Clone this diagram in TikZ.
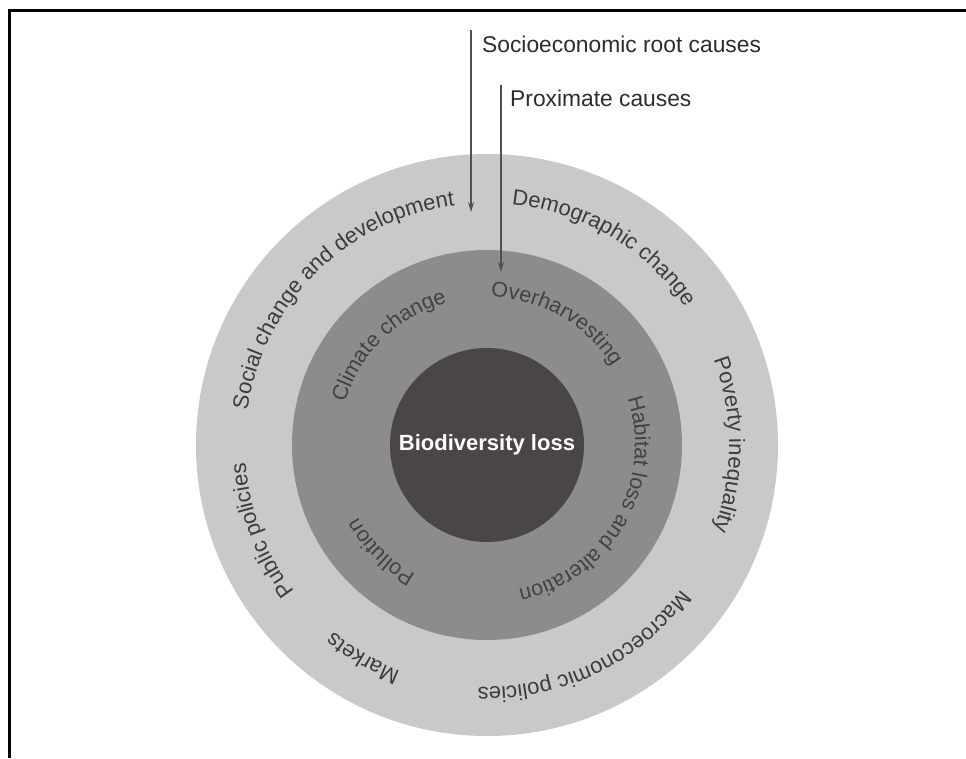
\documentclass[tikz,border=0pt]{standalone}
\usepackage{fontspec}
\setmainfont{Liberation Sans}
\usetikzlibrary{decorations.text,arrows.meta}
\definecolor{outerring}{RGB}{201,201,203}
\definecolor{midring}{RGB}{140,140,140}
\definecolor{corefill}{RGB}{74,69,71}
\definecolor{ringtxt}{RGB}{60,60,60}
\definecolor{midtxt}{RGB}{66,66,66}
\definecolor{arrowgray}{RGB}{80,80,80}
\definecolor{labeltxt}{RGB}{45,45,45}
\def\ringtext#1#2#3#4#5{%
  \path[shift={(C)},decorate,decoration={text along path,text align=center,
    text={|\color{#4}\fontsize{#3}{#3}\selectfont|#5}}]
    (#2+70:#1) arc[start angle=#2+70,end angle=#2-70,radius=#1];}
\begin{document}
\begin{tikzpicture}[x=1pt,y=1pt,
  causearrow/.style={draw=arrowgray,line width=1.3pt,-{Stealth[length=10pt,width=6pt]}},
  toplabel/.style={anchor=base west,inner sep=0pt,text=labeltxt,font=\fontsize{22.8}{27}\selectfont}]
\useasboundingbox (0,0) rectangle (966,758);
\fill[white] (0,0) rectangle (966,758);
% frame
\draw[line width=3pt] (966,747.5) -- (9.5,747.5) -- (9.5,0);
% rings
\coordinate (C) at (487,313);
\fill[outerring] (C) circle[radius=291pt];
\fill[midring] (C) circle[radius=195pt];
\fill[corefill] (C) circle[radius=97pt];
\node[font=\bfseries\fontsize{22}{26}\selectfont,text=white,inner sep=0pt] (core) at (C) {Biodiversity loss};
% outer ring labels
\ringtext{242pt}{134.7}{22}{ringtxt}{Social change and development}
\ringtext{242pt}{59.4}{22}{ringtxt}{Demographic change}
\ringtext{242pt}{0}{22}{ringtxt}{Poverty inequality}
\ringtext{242pt}{-64.4}{22}{ringtxt}{Macroeconomic policies}
\ringtext{242pt}{-120.2}{22}{ringtxt}{Markets}
\ringtext{242pt}{-159.3}{22}{ringtxt}{Public policies}
% middle ring labels
\ringtext{148pt}{134.6}{21.5}{midtxt}{Climate change}
\ringtext{148pt}{60.3}{21.5}{midtxt}{Overharvesting}
\ringtext{148pt}{-29.7}{21.5}{midtxt}{Habitat loss and alteration}
\ringtext{148pt}{-134.8}{21.5}{midtxt}{Pollution}
% arrows
\coordinate (rootTop) at (471,728);
\coordinate (rootTip) at (471,546);
\coordinate (proxTop) at (501,673);
\coordinate (proxTip) at (501,486);
\draw[causearrow] (rootTop) -- (rootTip);
\draw[causearrow] (proxTop) -- (proxTip);
\node[toplabel] (rootlabel) at (482,705) {Socioeconomic root causes};
\node[toplabel] (proxlabel) at (510,651) {Proximate causes};
\end{tikzpicture}
\end{document}
